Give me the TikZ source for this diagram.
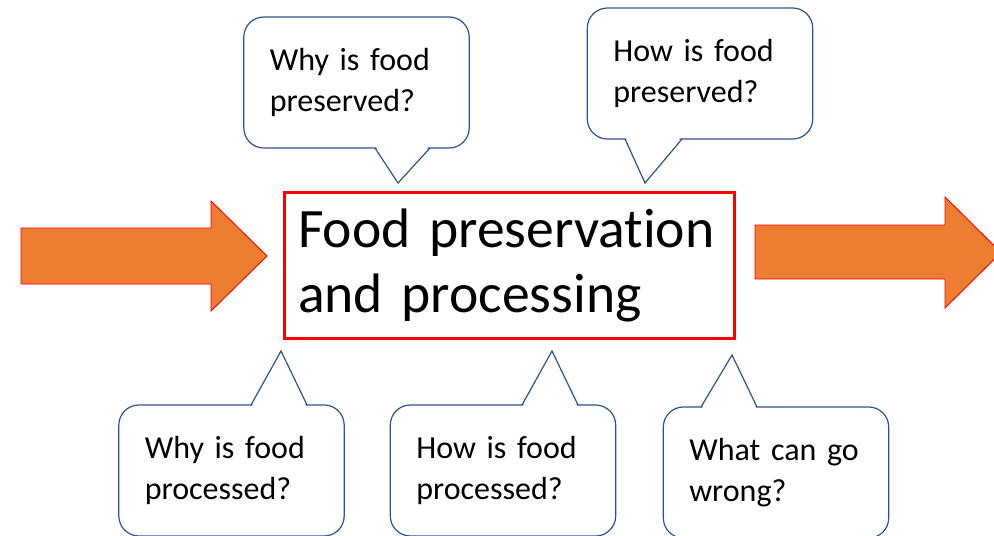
\documentclass[tikz,border=0pt]{standalone}
\usepackage{fontspec}
\setmainfont{Carlito}[Ligatures=NoCommon]
\usepackage{xcolor}
\usetikzlibrary{calc}
\definecolor{bubblecolor}{RGB}{47,82,143}
\definecolor{arrowcolor}{RGB}{237,125,49}
\definecolor{boxcolor}{RGB}{255,0,0}
\tikzstyle{bubble} = [rectangle, draw=bubblecolor, line width=0.9pt, fill=white, rounded corners=15pt, minimum width=169pt, minimum height=98.25pt, text width=130pt, align=left, inner sep=0pt, outer sep=0pt, font=\fontsize{24}{30.5}\selectfont]
\tikzstyle{bubbletail} = [draw=bubblecolor, line width=0.9pt, line join=miter]
\tikzstyle{topicbox} = [rectangle, draw=boxcolor, line width=2.2pt, minimum width=337pt, minimum height=110pt, text width=317pt, align=left, inner sep=0pt, outer sep=0pt, font=\fontsize{41.7}{48.8}\selectfont]
\tikzstyle{bigarrow} = [fill=arrowcolor, draw=boxcolor, line width=0.7pt, line join=miter]
% tail of a speech bubble: node anchor, two base offsets, tip, inward shift
\newcommand{\drawtail}[5]{%
  \fill[white] ($(#1)+(#2,#5)$) -- (#4) -- ($(#1)+(#3,#5)$) -- cycle;
  \draw[bubbletail] ($(#1)+(#2,0)$) -- (#4) -- ($(#1)+(#3,0)$);
}

\begin{document}
\begin{tikzpicture}[x=0.75pt, y=-0.75pt]
\clip (0,0) rectangle (994,535);

% Arrows in and out
\filldraw[bigarrow] (21,228) -- (211,228) -- (211,201) -- (267,256) -- (211,311) -- (211,284) -- (21,284) -- cycle;
\filldraw[bigarrow] (755,225) -- (945,225) -- (945,197) -- (1001,252.5) -- (945,308) -- (945,279) -- (755,279) -- cycle;

% Topic box
\node[topicbox] (topic) at (509.5,265.5) {Food preservation\\and processing};

% Question bubbles
\node[bubble] (whypres) at (356.5,82.5) {Why is food\\preserved?};
\node[bubble] (howpres) at (700,73.5) {How is food\\preserved?};
\node[bubble] (whyproc) at (231.5,470.5) {Why is food\\processed?};
\node[bubble] (howproc) at (503,470.5) {How is food\\processed?};
\node[bubble] (wrong) at (776,472.5) {What can go\\wrong?};

% Tail tips
\coordinate (tipa) at (398,183);
\coordinate (tipb) at (645,183);
\coordinate (tipc) at (281,351);
\coordinate (tipd) at (552,351);
\coordinate (tipe) at (732,355);

% Tails
\drawtail{whypres.south}{18.5}{73.5}{tipa}{-3}
\drawtail{howpres.south}{-75}{-18}{tipb}{-3}
\drawtail{whyproc.north}{19.5}{75.5}{tipc}{3}
\drawtail{howproc.north}{19}{75}{tipd}{3}
\drawtail{wrong.north}{-75}{-19}{tipe}{3}

\end{tikzpicture}
\end{document}
